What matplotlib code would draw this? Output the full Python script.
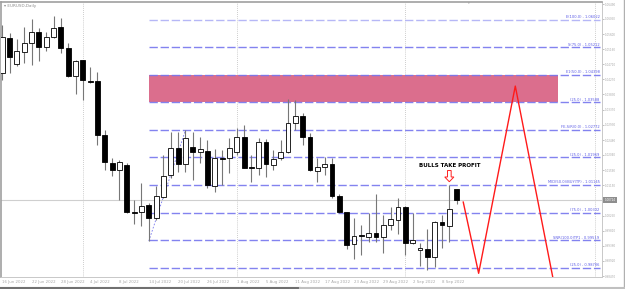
import matplotlib
matplotlib.use("Agg")
import matplotlib.pyplot as plt
import matplotlib.transforms as mtransforms
from matplotlib.patches import Rectangle, FancyArrow
from matplotlib.lines import Line2D
import numpy as np

# ── EURUSD daily candles, bar 0 = 16 Jun 2022 ... bar 62 = 12 Sep 2022 ──────
opens = [1.0445, 1.0549, 1.0472, 1.0507, 1.0534, 1.0566, 1.0522, 1.0552, 1.0581, 1.0519,
         1.0437, 1.0484, 1.0422, 1.0422, 1.0263, 1.0180, 1.0159, 1.0174, 1.0035, 1.0035,
         1.0056, 1.0018, 1.0080, 1.0145, 1.0224, 1.0177, 1.0227, 1.0212, 1.0215, 1.0112,
         1.0195, 1.0195, 1.0212, 1.0257, 1.0168, 1.0165, 1.0242, 1.0174, 1.0195, 1.0212,
         1.0298, 1.0319, 1.0257, 1.0156, 1.0168, 1.0177, 1.0083, 1.0035, 0.9941, 0.9968,
         0.9962, 0.9973, 0.9962, 0.9997, 1.0012, 1.0050, 0.9944, 0.9923, 0.9926, 0.9903,
         1.0006, 0.9994, 1.0103]
highs = [1.0587, 1.0563, 1.0546, 1.0581, 1.0605, 1.0578, 1.0566, 1.0614, 1.0608, 1.0534,
         1.0484, 1.0485, 1.0463, 1.0448, 1.0277, 1.0195, 1.0189, 1.0180, 1.0071, 1.0121,
         1.0062, 1.0112, 1.0204, 1.0271, 1.0271, 1.0277, 1.0271, 1.0257, 1.0248, 1.0221,
         1.0218, 1.0254, 1.0283, 1.0292, 1.0204, 1.0254, 1.0251, 1.0218, 1.0248, 1.0369,
         1.0366, 1.0327, 1.0268, 1.0195, 1.0198, 1.0195, 1.0089, 1.0036, 1.0018, 0.9997,
         1.0032, 1.0089, 1.0027, 1.0050, 1.0077, 1.0053, 1.0032, 0.9944, 0.9985, 1.0009,
         1.0027, 1.0115, 1.0103]
lows = [1.0425, 1.0445, 1.0466, 1.0475, 1.0469, 1.0481, 1.0510, 1.0549, 1.0504, 1.0434,
        1.0384, 1.0366, 1.0416, 1.0233, 1.0159, 1.0142, 1.0071, 1.0032, 1.0000, 0.9994,
        0.9950, 1.0012, 1.0077, 1.0136, 1.0153, 1.0153, 1.0130, 1.0180, 1.0106, 1.0094,
        1.0115, 1.0150, 1.0204, 1.0165, 1.0124, 1.0145, 1.0139, 1.0159, 1.0189, 1.0209,
        1.0277, 1.0233, 1.0156, 1.0124, 1.0145, 1.0077, 1.0032, 0.9926, 0.9897, 0.9909,
        0.9947, 0.9947, 0.9914, 0.9982, 0.9970, 0.9909, 0.9941, 0.9876, 0.9864, 0.9873,
        0.9929, 0.9947, 1.0059]
closes = [1.0552, 1.0493, 1.0510, 1.0534, 1.0566, 1.0522, 1.0552, 1.0578, 1.0519, 1.0437,
          1.0481, 1.0425, 1.0419, 1.0263, 1.0183, 1.0159, 1.0183, 1.0035, 1.0034, 1.0053,
          1.0018, 1.0083, 1.0142, 1.0224, 1.0177, 1.0254, 1.0212, 1.0221, 1.0115, 1.0195,
          1.0193, 1.0224, 1.0257, 1.0165, 1.0166, 1.0242, 1.0177, 1.0192, 1.0212, 1.0298,
          1.0319, 1.0257, 1.0159, 1.0168, 1.0177, 1.0083, 1.0035, 0.9938, 0.9965, 0.9966,
          0.9973, 0.9962, 0.9997, 1.0015, 1.0050, 0.9944, 0.9953, 0.9929, 0.9903, 1.0006,
          0.9997, 1.0044, 1.0071]

date_idx = [0, 4, 8, 12, 16, 20, 24, 28, 32, 36, 40, 44, 48, 52, 56, 60]
date_labels = ["16 Jun 2022", "22 Jun 2022", "28 Jun 2022", "4 Jul 2022", "8 Jul 2022",
               "14 Jul 2022", "20 Jul 2022", "26 Jul 2022", "1 Aug 2022", "5 Aug 2022",
               "11 Aug 2022", "17 Aug 2022", "23 Aug 2022", "29 Aug 2022", "2 Sep 2022",
               "8 Sep 2022"]
month_starts = [11, 32, 55]

price_ticks = [1.06490, 1.06050, 1.05600, 1.05160, 1.04710, 1.04270, 1.03830, 1.03370,
               1.02930, 1.02480, 1.02040, 1.01590, 1.01150, 1.00250, 0.99810, 0.99360,
               0.98920, 0.98470]

# fibonacci levels (anchored low of bar 20 -> high of bar 25)
fib_levels = [1.06022, 1.05212, 1.04398, 1.03588, 1.02772, 1.01969, 1.01145, 1.00332,
              0.99519, 0.98706]
fib_labels = ["E(100.0) - 1.06022", "S(75.0) - 1.05212", "E1(50.0) - 1.04398",
              "(25.0) - 1.03588", "FE-S/R(0.0) - 1.02772", "(25.0) - 1.01969",
              "MID(50.0)/BUY(TP) - 1.01145", "(75.0) - 1.00332",
              "SNR(100.0)TP1 - 0.99519", "(25.0) - 0.98706"]
fib_anchor_x = [20, 25]
fib_anchor_y = [0.9950, 1.0277]

zone_top, zone_bottom = 1.04398, 1.03588

# projected zig-zag path
zz_x = [62.9, 65.0, 70.0, 75.6]
zz_y = [1.0065, 0.9855, 1.0407, 0.9790]

W, H = 625, 289
fig = plt.figure(figsize=(W / 100, H / 100), dpi=100)
fig.patch.set_facecolor("white")
ax = fig.add_axes([1 / W, 1 - 277 / H, 601 / W, 275 / H])
ax.set_xlim(-0.164, 81.83)
ax.set_ylim(0.98441, 1.06549)

LINE_BLUE = "#7676ee"

# month separators + right marker
for m in month_starts + [80.9]:
    ax.axvline(m, color="#bdbdbd", lw=0.6, ls=(0, (1, 1.5)), zorder=1)

# zone rectangle
ax.add_patch(Rectangle((20, zone_bottom), 75.85 - 20, zone_top - zone_bottom,
                       facecolor="#db6e8d", edgecolor="none", zorder=1))

# fib lines
for k, (lv, lb) in enumerate(zip(fib_levels, fib_labels)):
    col = "#aeb0f6" if k == 0 else LINE_BLUE
    ax.plot([20, 81.55], [lv, lv], color=col, lw=1.0, dashes=(6, 2), zorder=2,
            alpha=0.9)
    ax.annotate(lb, (81.5, lv), xytext=(0, 0.6), textcoords="offset points",
                ha="right", va="bottom", fontsize=2.6, color="#5a5ae6", zorder=5)

ax.plot(fib_anchor_x, fib_anchor_y, color=LINE_BLUE, lw=0.6, ls=(0, (2, 2)), zorder=2)

# current price line
ax.axhline(closes[-1], color="#cfcfcf", lw=0.8, zorder=1)

# candles
x = np.arange(len(opens))
o, h, l, c = map(np.array, (opens, highs, lows, closes))
ax.vlines(x, l, h, color="#777777", lw=0.8, zorder=3)
up = c >= o
body = np.where(np.abs(c - o) < 0.00008, 0.00008, c - o)
ax.bar(x[up], body[up], bottom=o[up], width=0.66, facecolor="white",
       edgecolor="black", lw=0.6, zorder=4)
ax.bar(x[~up], body[~up], bottom=o[~up], width=0.66, facecolor="black",
       edgecolor="black", lw=0.6, zorder=4)

# zig-zag projection
ax.plot(zz_x, zz_y, color="#ff1a1a", lw=1.0, zorder=5)

# annotation
ax.text(61, 1.0172, "BULLS TAKE PROFIT", ha="center", va="center", fontsize=4.0,
        fontweight="bold", color="black", zorder=6)
ax.add_patch(FancyArrow(61, 1.0158, 0, -0.0033, width=0.5, head_width=1.25,
                        head_length=0.0014, length_includes_head=True,
                        facecolor="white", edgecolor="#ff2020", lw=0.7, zorder=6))

# axes styling
ax.yaxis.tick_right()
ax.set_yticks(price_ticks)
ax.set_yticklabels([f"{p:.5f}" for p in price_ticks])
ax.tick_params(axis="y", labelsize=2.0, colors="#a8a8a8", length=1.2, width=0.5, pad=1)
ax.set_xticks(date_idx)
ax.set_xticklabels(date_labels)
ax.tick_params(axis="x", labelsize=2.8, colors="#a8a8a8", length=0, pad=2.2)
for t in ax.get_xticklabels():
    t.set_ha("left")
for side in ("top", "left"):
    ax.spines[side].set_color("#a0a0a0")
    ax.spines[side].set_linewidth(1.2)
for side in ("right", "bottom"):
    ax.spines[side].set_color("#c8c8c8")
    ax.spines[side].set_linewidth(0.7)

# price box on the axis
blend = mtransforms.blended_transform_factory(ax.transAxes, ax.transData)
ax.text(1.004, closes[-1], "1.00724", transform=blend, ha="left", va="center",
        fontsize=2.0, color="white",
        bbox=dict(boxstyle="square,pad=0.35", fc="#8e8e8e", ec="none"), clip_on=False)

# title and frame
fig.text(4 / W, 1 - 5.5 / H, "\u25be EURUSD,Daily", fontsize=3.0, color="#8c8c8c",
         va="center", ha="left")
fig.text(469 / W, 1 - 3 / H, "\u25be", fontsize=2.5, color="#9a9a9a", va="center",
         ha="center")
fig.add_artist(Line2D([623.5 / W, 623.5 / W], [0, 1], color="#b0b0b0", lw=1.0))
fig.add_artist(Line2D([0, 300 / W], [1.5 / H, 1.5 / H], color="#707070", lw=1.5))
fig.add_artist(Line2D([300 / W, 1], [1.5 / H, 1.5 / H], color="#c0c0c0", lw=1.5))

fig.savefig("out.png", dpi=100, facecolor="white")
